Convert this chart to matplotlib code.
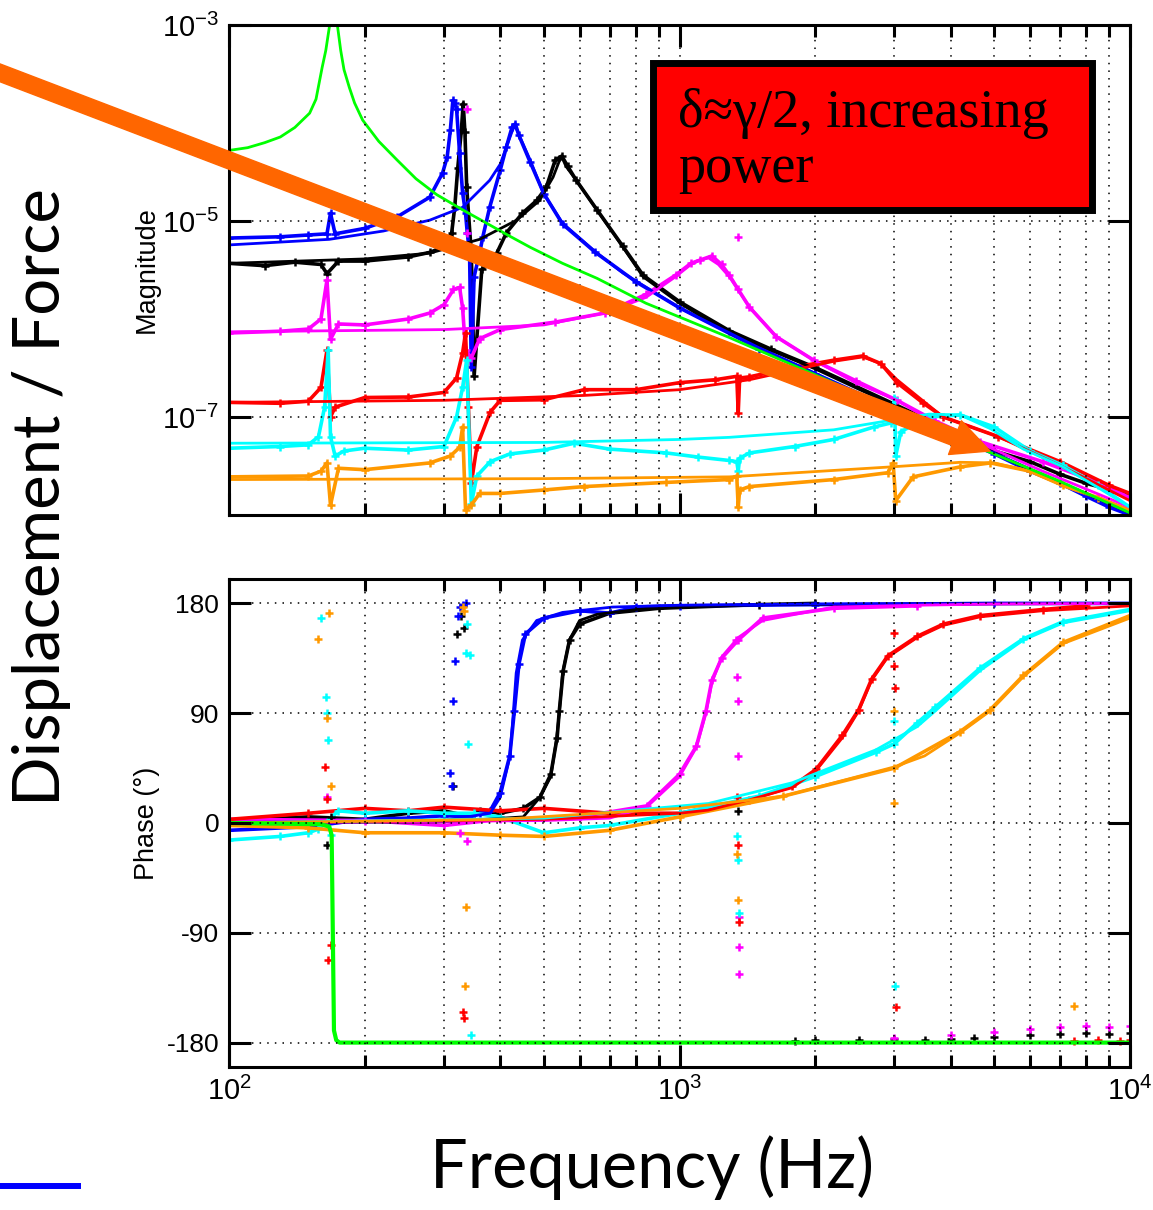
import numpy as np
import matplotlib
matplotlib.use("Agg")
import matplotlib.pyplot as plt
from matplotlib.patches import FancyArrowPatch, Rectangle
from matplotlib.lines import Line2D
from matplotlib.ticker import FixedLocator, NullLocator, LogLocator

plt.rcParams['font.family'] = ['Liberation Sans', 'DejaVu Sans']
plt.rcParams['axes.unicode_minus'] = False

# ---------------- magnitude: fitted curves ----------------
green_fit_f = [100, 110, 120, 130, 140, 151, 156, 161, 164, 167, 170, 174, 177, 180, 185, 190, 198, 215, 236, 260, 289, 330, 373,
               420, 466, 550, 656, 842, 1287, 2000, 3000, 4700, 7000, 10000]
green_fit_mag = [5.25e-5, 5.6e-5, 6.3e-5, 7.2e-5, 9.0e-5, 1.26e-4, 1.75e-4, 3.7e-4, 5.5e-4, 9.5e-4, 3e-3, 1.0e-3, 5.5e-4, 3.5e-4,
                 2.3e-4, 1.6e-4, 1.07e-4, 6.5e-5, 4.2e-5, 2.7e-5, 1.86e-5, 1.3e-5, 9.5e-6, 7.0e-6, 5.4e-6, 3.7e-6, 2.6e-6,
                 1.45e-6, 6.5e-7, 2.7e-7, 1.18e-7, 4.7e-8, 2.2e-8, 1.05e-8]

blue_fit_f = [100, 167, 220, 279, 330, 379, 400, 413, 425, 431, 440, 466, 498, 550, 656, 749, 1000, 1500, 2000, 3000, 4000, 6000, 8000, 10000]
blue_fit_mag = [5.7e-6, 6.5e-6, 7.9e-6, 1.02e-5, 1.38e-5, 2.6e-5, 3.8e-5, 5.7e-5, 8.2e-5, 9.5e-5, 7.6e-5, 4.2e-5, 1.95e-5, 9.5e-6,
                4.7e-6, 2.95e-6, 1.3e-6, 5.1e-7, 2.8e-7, 1.2e-7, 6.7e-8, 2.95e-8, 1.65e-8, 1.06e-8]

black_fit_f = [100, 200, 279, 360, 435, 489, 524, 540, 548, 560, 590, 656, 749, 830, 1000, 1290, 2000, 3000, 4200, 6000, 8000, 10000]
black_fit_mag = [3.7e-6, 4.1e-6, 4.7e-6, 6.5e-6, 1.02e-5, 1.62e-5, 2.8e-5, 4.0e-5, 4.5e-5, 3.6e-5, 2.6e-5, 1.29e-5, 5.4e-6, 2.7e-6,
                 1.45e-6, 7.2e-7, 3.1e-7, 1.3e-7, 6.2e-8, 2.9e-8, 1.65e-8, 1.05e-8]

magenta_fit_f = [100, 300, 500, 682, 842, 980, 1060, 1112, 1160, 1220, 1290, 1430, 1640, 1985, 2460, 3040, 3700, 4650, 6400, 8600, 10000]
magenta_fit_mag = [7.4e-7, 7.8e-7, 8.7e-7, 1.15e-6, 1.66e-6, 2.7e-6, 3.6e-6, 4.0e-6, 4.2e-6, 3.6e-6, 2.7e-6, 1.32e-6, 6.6e-7,
                   3.8e-7, 2.24e-7, 1.48e-7, 8.7e-8, 5.4e-8, 2.8e-8, 1.6e-8, 1.2e-8]

red_fit_f = [100, 300, 614, 1000, 1430, 1780, 2200, 2550, 2800, 3040, 3480, 3850, 5100, 7000, 10000]
red_fit_mag = [1.41e-7, 1.48e-7, 1.66e-7, 1.9e-7, 2.4e-7, 3.0e-7, 3.7e-7, 4.1e-7, 3.5e-7, 2.4e-7, 1.45e-7, 1.0e-7, 6.3e-8, 3.2e-8, 1.4e-8]

cyan_fit_f = [100, 500, 1000, 1290, 2200, 2960, 3580, 4200, 4900, 5800, 7100, 8500, 10000]
cyan_fit_mag = [5.4e-8, 5.5e-8, 5.9e-8, 6.2e-8, 7.4e-8, 9.3e-8, 1.07e-7, 1.05e-7, 7.6e-8, 4.7e-8, 3.1e-8, 1.9e-8, 1.2e-8]

orange_fit_f = [100, 500, 1290, 2960, 4200, 5000, 6000, 7100, 8500, 10000]
orange_fit_mag = [2.3e-8, 2.35e-8, 2.45e-8, 3.1e-8, 3.45e-8, 3.4e-8, 2.8e-8, 2.0e-8, 1.5e-8, 1.1e-8]

# ---------------- magnitude: measured points ----------------
blue_f = [100, 130, 150, 165, 168, 172, 200, 236, 279, 298, 305, 310, 314, 317, 320, 325, 330, 335, 338, 342, 345, 350, 360, 366,
          379, 400, 413, 425, 432, 440, 466, 500, 550, 650, 800, 1000, 1500, 2000, 3000, 4000, 5000, 6000, 7000, 8000, 9000, 10000]
blue_mag = [6.7e-6, 6.9e-6, 7.2e-6, 7.4e-6, 1.2e-5, 7.4e-6, 8.4e-6, 1.1e-5, 1.75e-5, 3.1e-5, 4.5e-5, 8.5e-5, 1.7e-4, 1.6e-4, 1.4e-4,
            4.9e-5, 1.95e-5, 1.2e-5, 7.6e-6, 4.7e-6, 3.2e-7, 2.7e-6, 4.7e-6, 6.9e-6, 1.38e-5, 3.3e-5, 5.75e-5, 9.1e-5, 9.8e-5,
            7.5e-5, 4.0e-5, 1.9e-5, 9.3e-6, 4.8e-6, 2.4e-6, 1.3e-6, 5.0e-7, 2.75e-7, 1.15e-7, 6.5e-8, 4.2e-8, 2.8e-8, 2.1e-8,
            1.55e-8, 1.2e-8, 1.0e-8]

black_f = [100, 120, 140, 160, 165, 175, 200, 250, 280, 300, 312, 317, 322, 328, 331, 334, 337, 345, 350, 364, 393, 413, 448, 482,
           506, 530, 548, 565, 590, 656, 749, 830, 1000, 1290, 1600, 2000, 3000, 4200, 5000, 6000, 7000, 8000, 9100, 10000]
black_mag = [3.7e-6, 3.5e-6, 3.8e-6, 3.6e-6, 2.9e-6, 3.9e-6, 3.9e-6, 4.3e-6, 4.8e-6, 5.5e-6, 7.5e-6, 1.38e-5, 3.5e-5, 8.5e-5,
             1.58e-4, 8.0e-5, 2.2e-5, 4.7e-6, 2.6e-7, 3.2e-6, 4.7e-6, 7.6e-6, 1.2e-5, 1.62e-5, 2.2e-5, 4.2e-5, 4.6e-5, 3.6e-5,
             2.6e-5, 1.3e-5, 5.5e-6, 2.8e-6, 1.5e-6, 7.6e-7, 4.9e-7, 3.2e-7, 1.35e-7, 6.5e-8, 4.5e-8, 3.5e-8, 2.6e-8, 2.1e-8,
             1.8e-8, 1.6e-8]

magenta_f = [100, 130, 150, 160, 165, 168, 175, 200, 250, 279, 300, 315, 325, 330, 335, 345, 360, 400, 530, 682, 842, 980, 1060,
             1112, 1180, 1240, 1290, 1350, 1430, 1640, 1985, 2460, 3040, 3700, 4650, 6400, 8600, 10000]
magenta_mag = [7.2e-7, 7.5e-7, 7.9e-7, 1.0e-6, 2.5e-6, 6.2e-7, 8.9e-7, 8.7e-7, 1.0e-6, 1.15e-6, 1.4e-6, 2.0e-6, 2.1e-6, 1.3e-6,
               4.8e-7, 4.0e-7, 6.3e-7, 7.8e-7, 9.3e-7, 1.15e-6, 1.78e-6, 2.8e-6, 3.7e-6, 4.0e-6, 4.4e-6, 3.6e-6, 2.8e-6,
               2.0e-6, 1.32e-6, 6.6e-7, 3.8e-7, 2.35e-7, 1.48e-7, 9.1e-8, 5.6e-8, 3.5e-8, 2.1e-8, 1.5e-8]
magenta_out_f = [338, 338, 1350]
magenta_out_mag = [1.4e-4, 7.6e-6, 6.9e-6]

red_f = [100, 130, 150, 160, 165, 168, 172, 200, 250, 300, 320, 330, 335, 340, 345, 355, 380, 400, 500, 614, 800, 1000, 1200,
         1340, 1350, 1360, 1430, 1780, 2200, 2550, 2800, 3040, 3480, 3850, 5100, 7000, 9000, 10000]
red_mag = [1.41e-7, 1.38e-7, 1.45e-7, 2.0e-7, 4.8e-7, 1.0e-7, 1.26e-7, 1.58e-7, 1.6e-7, 1.78e-7, 2.5e-7, 4.5e-7, 7.2e-7, 1.26e-7,
           2.1e-8, 5.0e-8, 1.12e-7, 1.48e-7, 1.5e-7, 1.9e-7, 1.9e-7, 2.24e-7, 2.4e-7, 2.6e-7, 1.1e-7, 2.5e-7, 2.57e-7, 3.2e-7,
           3.8e-7, 4.2e-7, 3.5e-7, 2.24e-7, 1.38e-7, 1.0e-7, 6.3e-8, 3.5e-8, 2.0e-8, 1.66e-8]

cyan_f = [100, 130, 150, 158, 163, 166, 168, 172, 180, 200, 250, 300, 320, 330, 337, 345, 355, 380, 420, 500, 584, 700, 935, 1100,
          1290, 1340, 1350, 1360, 1430, 1800, 2200, 2700, 2950, 3000, 3020, 3100, 3580, 4200, 5000, 6000, 7100, 8500, 10000]
cyan_mag = [4.8e-8, 5.0e-8, 5.2e-8, 6.3e-8, 1.26e-7, 4.8e-7, 6.3e-8, 4.0e-8, 4.5e-8, 4.8e-8, 4.6e-8, 5.0e-8, 1.0e-7, 2.0e-7,
            3.8e-7, 1.3e-8, 2.5e-8, 3.5e-8, 4.2e-8, 4.6e-8, 5.4e-8, 4.7e-8, 4.3e-8, 3.9e-8, 3.6e-8, 3.5e-8, 2.8e-8, 3.8e-8,
            4.3e-8, 5.0e-8, 5.9e-8, 7.9e-8, 8.7e-8, 1.58e-7, 4.0e-8, 7.1e-8, 1.0e-7, 1.05e-7, 7.9e-8, 4.5e-8, 3.2e-8, 2.0e-8, 1.2e-8]

orange_f = [100, 150, 160, 165, 168, 175, 200, 279, 310, 325, 330, 335, 345, 360, 400, 500, 614, 935, 1290, 1340, 1350, 1360,
            1430, 2200, 2900, 2980, 3020, 3300, 4200, 4900, 6000, 7100, 8500, 10000]
orange_mag = [2.45e-8, 2.5e-8, 2.8e-8, 3.4e-8, 1.26e-8, 3.0e-8, 2.9e-8, 3.4e-8, 4.0e-8, 4.9e-8, 7.9e-8, 1.12e-8, 1.26e-8, 1.66e-8,
              1.66e-8, 1.8e-8, 1.95e-8, 2.15e-8, 2.3e-8, 2.5e-8, 1.2e-8, 1.8e-8, 1.95e-8, 2.3e-8, 2.7e-8, 3.4e-8, 1.4e-8,
              2.45e-8, 3.1e-8, 3.4e-8, 2.8e-8, 2.0e-8, 1.5e-8, 1.12e-8]

# ---------------- phase: fitted curves ----------------
green_fit_pf = [100, 160, 167, 169, 170, 171, 173, 176, 10000]
green_fit_ph = [0, -1, -3, -10, -90, -170, -178, -180, -180]

blue_fit_pf = [100, 200, 300, 380, 400, 420, 427, 434, 448, 482, 550, 710, 1000, 2000, 10000]
blue_fit_ph = [0.5, 1, 2, 8, 21, 54, 87, 123, 150, 166, 172.6, 177, 178.5, 179.5, 180]

black_fit_pf = [100, 300, 450, 490, 518, 533, 541, 550, 570, 600, 656, 845, 1500, 10000]
black_fit_ph = [0, 1, 5, 21, 38, 68, 90, 123, 150, 166, 171, 176, 179, 180]

magenta_fit_pf = [100, 500, 700, 845, 1000, 1090, 1145, 1180, 1240, 1350, 1530, 2200, 3370, 5000, 10000]
magenta_fit_ph = [0, 2, 4, 13, 38, 62, 90, 115, 136, 152, 166, 177, 178.5, 179.5, 180]

red_fit_pf = [100, 500, 1000, 1160, 1430, 1780, 2010, 2300, 2500, 2670, 2900, 3370, 3850, 4650, 6400, 10000]
red_fit_ph = [0, 3, 8, 10.6, 19, 29, 43, 70, 92, 117, 136, 152, 162, 169, 174, 178]

cyan_fit_pf = [100, 500, 1160, 1780, 2730, 3370, 3700, 4650, 5800, 7100, 10000]
cyan_fit_ph = [0, 4, 16, 33, 60, 79, 92, 125, 150, 164, 174]

orange_fit_pf = [100, 400, 1000, 1700, 3000, 3500, 4200, 4900, 5800, 7100, 10000]
orange_fit_ph = [0, 3, 12, 22, 46, 55, 74, 92, 120, 147, 168]

# ---------------- phase: measured points ----------------
blue_pf = [100, 150, 200, 250, 300, 345, 360, 380, 400, 420, 430, 440, 455, 500, 600, 700, 800, 1000, 2000, 5000, 10000]
blue_ph = [-6, -3, 3, 4, 6, 5, 8, 10, 25, 55, 92, 130, 155, 168, 174, 172, 177, 178, 179, 180, 180]
blue_spike_pf = [312, 310, 315, 318, 322, 326, 330, 335]
blue_spike_ph = [30, 41, 100, 133, 170, 177, 179, 180]

black_pf = [100, 150, 200, 250, 300, 345, 360, 400, 450, 490, 518, 535, 541, 552, 570, 600, 700, 900, 1500, 2000]
black_ph = [2, 5, 3, 8, 10, 5, 10, 8, 12, 21, 40, 70, 92, 125, 150, 163, 172, 176, 179, 180]
black_spike_pf = [165, 168, 315, 320, 328, 332, 1350]
black_spike_ph = [-18, 5, 30, 155, 170, 160, 10]
black_wrap_pf = [1800, 2000, 2500, 3000, 3500, 4000, 4500, 5000, 6000, 7000, 8000, 9000, 10000]
black_wrap_ph = [-179, -178, -178, -177, -178, -177, -176, -175, -174, -173, -172, -173, -172]

magenta_pf = [100, 200, 300, 400, 600, 845, 1000, 1090, 1145, 1180, 1240, 1350, 1530, 2200, 3370]
magenta_ph = [3, 2, -2, 3, 5, 14, 40, 63, 92, 117, 135, 150, 168, 176, 178]
magenta_spike_pf = [165, 325, 338, 1338, 1342, 1346, 1350, 1354, 1356, 1358]
magenta_spike_ph = [21, -8, -15, 150, 120, 100, 55, -77, -102, -124]
magenta_wrap_pf = [3000, 4000, 5000, 6000, 7000, 8000, 9000, 10000]
magenta_wrap_ph = [-176, -174, -171, -169, -167, -166, -167, -166]

red_pf = [100, 150, 200, 250, 300, 400, 500, 700, 1000, 1430, 1780, 2010, 2300, 2500, 2670, 2900, 3370, 3850, 4650, 6400, 8000]
red_ph = [3, 8, 12, 10, 13, 10, 12, 8, 8, 19, 30, 44, 72, 93, 118, 137, 153, 163, 170, 175, 178]
red_spike_pf = [163, 165, 166, 168, 330, 332, 1345, 1350, 1355, 2990, 3000, 3010, 3020]
red_spike_ph = [46, 20, -112, -100, -155, -160, 21, -18, -81, 156, 129, 111, -151]
red_wrap_pf = [7500, 8500, 9500, 10000]
red_wrap_ph = [-179, -178, -179, -178]

cyan_pf = [100, 130, 150, 158, 175, 200, 250, 300, 350, 400, 500, 600, 700, 1000, 1500, 2000, 2730, 3000, 3370, 3700, 4650,
           5800, 7100, 10000]
cyan_ph = [-14, -11, -8, -5, 10, 8, 10, 8, 8, 5, -8, -4, -2, 8, 22, 38, 58, 65, 82, 95, 127, 151, 165, 175]
cyan_spike_pf = [160, 164, 165, 166, 168, 335, 338, 340, 342, 345, 1345, 1350, 1355, 2990, 3000, 3010]
cyan_spike_ph = [168, 103, 90, 68, -10, 139, 163, 65, 138, -174, -11, -30, -74, 84, 68, -134]

orange_pf = [100, 150, 200, 300, 400, 500, 700, 1000, 1700, 3000, 4200, 4900, 5800, 7100, 10000]
orange_ph = [-2, -4, -8, -8, -10, -11, -6, 5, 22, 45, 75, 93, 121, 148, 170]
orange_spike_pf = [158, 165, 167, 168, 330, 332, 334, 336, 1345, 1350, 2990, 3000, 7500]
orange_spike_ph = [151, 86, 172, 30, 177, 174, -134, -69, -25, -63, 92, 16, -150]

BLUE, BLACK, MAGENTA, RED, CYAN, ORANGE, GREEN = '#0000FF', '#000000', '#FF00FF', '#FF0000', '#00FFFF', '#FF9900', '#00FF00'

mag_data = [(BLACK, black_f, black_mag), (BLUE, blue_f, blue_mag), (MAGENTA, magenta_f, magenta_mag),
            (RED, red_f, red_mag), (CYAN, cyan_f, cyan_mag), (ORANGE, orange_f, orange_mag)]
mag_fits = [(BLACK, black_fit_f, black_fit_mag), (BLUE, blue_fit_f, blue_fit_mag), (MAGENTA, magenta_fit_f, magenta_fit_mag),
            (RED, red_fit_f, red_fit_mag), (CYAN, cyan_fit_f, cyan_fit_mag), (ORANGE, orange_fit_f, orange_fit_mag)]
ph_data = [(BLACK, black_pf, black_ph), (BLUE, blue_pf, blue_ph), (MAGENTA, magenta_pf, magenta_ph),
           (RED, red_pf, red_ph), (CYAN, cyan_pf, cyan_ph), (ORANGE, orange_pf, orange_ph)]
ph_spikes = [(BLACK, black_spike_pf, black_spike_ph), (BLUE, blue_spike_pf, blue_spike_ph),
             (MAGENTA, magenta_spike_pf, magenta_spike_ph), (RED, red_spike_pf, red_spike_ph),
             (CYAN, cyan_spike_pf, cyan_spike_ph), (ORANGE, orange_spike_pf, orange_spike_ph),
             (BLACK, black_wrap_pf, black_wrap_ph), (MAGENTA, magenta_wrap_pf, magenta_wrap_ph),
             (RED, red_wrap_pf, red_wrap_ph)]
ph_fits = [(BLACK, black_fit_pf, black_fit_ph), (BLUE, blue_fit_pf, blue_fit_ph), (MAGENTA, magenta_fit_pf, magenta_fit_ph),
           (RED, red_fit_pf, red_fit_ph), (CYAN, cyan_fit_pf, cyan_fit_ph), (ORANGE, orange_fit_pf, orange_fit_ph)]

W, H = 1153, 1210
fig = plt.figure(figsize=(W / 100, H / 100), dpi=100)
ax1 = fig.add_axes([229 / W, 1 - 515 / H, 901 / W, 490 / H])
ax2 = fig.add_axes([229 / W, 1 - 1067 / H, 901 / W, 488 / H])

pts = dict(marker='+', ms=6, mew=1.8)

# magnitude
for c, f, m in mag_data:
    ax1.plot(f, m, '-', color=c, lw=2.6, **pts)
ax1.plot(magenta_out_f, magenta_out_mag, ls='none', color=MAGENTA, **pts)
for c, f, m in mag_fits:
    ax1.plot(f, m, '-', color=c, lw=2)
ax1.plot(green_fit_f, green_fit_mag, '-', color=GREEN, lw=2)

# phase
for c, f, p in ph_data:
    ax2.plot(f, p, '-', color=c, lw=2.6, **pts)
for c, f, p in ph_spikes:
    ax2.plot(f, p, ls='none', color=c, **pts)
for c, f, p in ph_fits:
    ax2.plot(f, p, '-', color=c, lw=2)
ax2.plot(green_fit_pf, green_fit_ph, '-', color=GREEN, lw=3)

grid_kw = dict(color='k', ls=(0, (1, 4)), lw=1.1)
for ax in (ax1, ax2):
    ax.set_xscale('log')
    ax.set_xlim(100, 1e4)
    ax.xaxis.set_major_locator(LogLocator(base=10))
    ax.xaxis.set_minor_locator(LogLocator(base=10, subs=np.arange(2, 10)))
    ax.tick_params(which='both', direction='in', top=True, right=True, width=2.2, labelsize=19, pad=7)
    ax.tick_params(which='major', length=16)
    ax.tick_params(which='minor', length=8.6)
    for s in ax.spines.values():
        s.set_linewidth(2.2)
    ax.grid(True, which='major', **grid_kw)
    ax.xaxis.grid(True, which='minor', **grid_kw)
    ax.set_axisbelow(False)

ax1.set_yscale('log')
ax1.set_ylim(1e-8, 1e-3)
ax1.yaxis.set_major_locator(FixedLocator([1e-7, 1e-5, 1e-3]))
ax1.yaxis.set_minor_locator(NullLocator())
ax1.tick_params(axis='y', labelsize=21)
ax1.tick_params(axis='x', labelbottom=False)
ax1.set_ylabel('Magnitude', fontsize=19.5)
ax1.yaxis.set_label_coords(-0.077, 0.5)

ax2.set_ylim(-200, 200)
ax2.set_yticks([-180, -90, 0, 90, 180])
ax2.tick_params(axis='x', labelsize=21)
ax2.set_ylabel('Phase (°)', fontsize=19.5)
ax2.yaxis.set_label_coords(-0.077, 0.5)

# figure-level annotations
hand = ['Lato', 'DejaVu Sans']
fig.text(42 / W, 1 - 497 / H, 'Displacement / Force', rotation=90, ha='center', va='center',
         fontsize=47, family=hand, weight='normal')
fig.text(652 / W, 1 - 1168 / H, 'Frequency (Hz)', ha='center', va='center', fontsize=48, family=hand, weight='normal')
fig.add_artist(Line2D([0, 78 / W], [1 - 1186 / H] * 2, transform=fig.transFigure, color=BLUE, lw=4.3))

fig.add_artist(Rectangle((653 / W, 1 - 210 / H), 439 / W, 147 / H, transform=fig.transFigure,
                         facecolor='#FF0000', edgecolor='k', lw=5))
serif = ['Liberation Serif', 'DejaVu Serif']
fig.text(678 / W, 1 - 127 / H, 'δ≈γ/2, increasing', fontsize=39, family=serif, va='baseline')
fig.text(678 / W, 1 - 182 / H, 'power', fontsize=39, family=serif, va='baseline')

arrow = FancyArrowPatch((-10 / W, 1 - 69 / H), (990 / W, 1 - 451 / H), transform=fig.transFigure,
                        arrowstyle='simple,tail_width=12,head_width=26,head_length=27',
                        mutation_scale=1, color='#FF6600', shrinkA=0, shrinkB=0)
fig.add_artist(arrow)

fig.savefig('out.png', dpi=100)
